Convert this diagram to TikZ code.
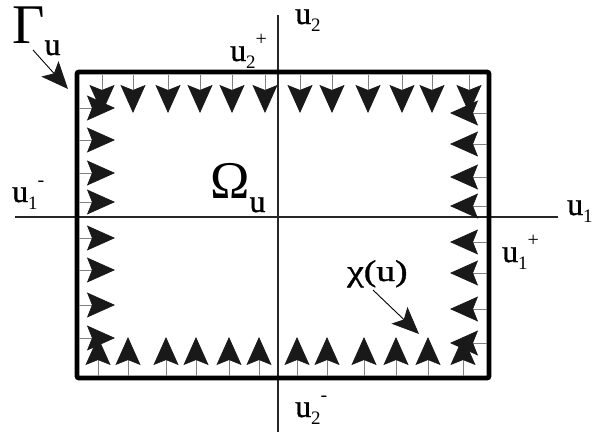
\documentclass[tikz,border=0pt]{standalone}
\usepackage{fontspec}
\setmainfont{Liberation Serif}[AutoFakeBold=1.1]
\usetikzlibrary{arrows.meta}

% label with stacked index and sign
\newcommand{\uvar}[2]{u\raisebox{-7pt}{\fontsize{19}{19}\selectfont\mdseries #1}\raisebox{16pt}{\fontsize{20}{20}\selectfont\mdseries #2}}

\begin{document}
\begin{tikzpicture}[
    x=1pt, y=-1pt,
    bound/.style={line width=4.8pt, rounded corners=2pt},
    axis/.style={line width=1.2pt, draw=black!85},
    flow/.style={draw=black!50, line width=0.8pt,
                 -{Stealth[length=28pt, width=25pt, inset=5pt, color=black!90]}},
    pointer/.style={line width=0.9pt,
                 -{Stealth[length=27pt, width=23pt, inset=6pt, color=black!90]}},
    lab/.style={font=\fontsize{32}{34}\selectfont\bfseries, inner sep=0pt, anchor=base west},
    biglab/.style={font=\fontsize{56}{58}\selectfont, inner sep=0pt, anchor=base west},
]
\useasboundingbox (0,0) rectangle (610,437);

% axes
\draw[axis] (15,217) -- (558,217);
\draw[axis] (278,15) -- (278,432);

% boundary
\draw[bound] (77,72) rectangle (489,378);

% field on the boundary
\foreach \x in {102,133,168,200,232,265,300,332,368,402,432,469}
    \draw[flow] (\x,75) -- (\x,113);
\foreach \x in {98,128,166,196,229,259,297,327,364,396,428,463}
    \draw[flow] (\x,376) -- (\x,337);
\foreach \y in {108,140,173,202,238,270,305,338}
    \draw[flow] (79,\y) -- (115,\y);
\foreach \y in {113,144,177,206,242,273,309,343}
    \draw[flow] (487,\y) -- (450,\y);

% labels
\node[biglab] (gamma) at (12,43) {Γ\raisebox{-12pt}{\fontsize{32}{32}\selectfont\bfseries u}};
\node[biglab, font=\fontsize{53}{55}\selectfont] (omega) at (210,198) {Ω\raisebox{-14pt}{\fontsize{32}{32}\selectfont\bfseries u}};
\node[lab] (u2p) at (230,61) {\uvar{2}{+}};
\node[lab] (u2) at (295,24) {\uvar{2}{}};
\node[lab] (u1m) at (12,202) {\uvar{1}{-}};
\node[lab] (u1) at (567,215) {\uvar{1}{}};
\node[lab] (u1p) at (502,262) {\uvar{1}{+}};
\node[lab] (u2m) at (295,417) {\uvar{2}{-}};
\node[lab, font=\fontsize{30}{32}\selectfont\bfseries] (chi) at (347,281) {\scalebox{1.25}[1]{χ(u)}};

% pointers
\coordinate (corner) at (68,89);
\coordinate (field) at (419,334);
\draw[pointer] (33,50) -- (corner);
\draw[pointer] (373,290) -- (field);
\end{tikzpicture}
\end{document}
